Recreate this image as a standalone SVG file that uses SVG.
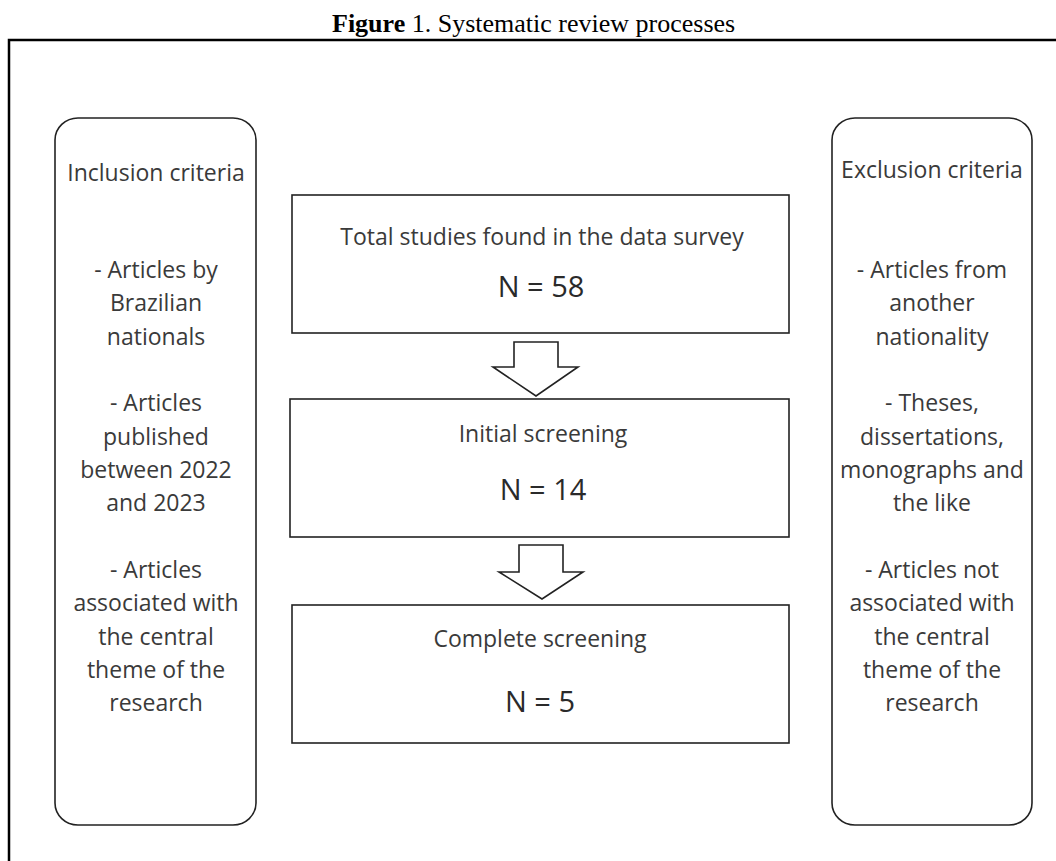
<svg xmlns="http://www.w3.org/2000/svg" width="1056" height="861" viewBox="0 0 1056 861">
<style>
.title{font-family:"Liberation Serif","Times New Roman",serif;font-size:26px;fill:#000}
.t{font-family:"Open Sans","Noto Sans",sans-serif;font-size:23px;fill:#3a3a3a;text-anchor:middle}
.n{font-family:"Open Sans","Noto Sans",sans-serif;font-size:29px;fill:#2a2a2a;text-anchor:middle}
.box{fill:#fff;stroke:#222;stroke-width:1.6}
.arrow{fill:#fff;stroke:#222;stroke-width:1.6;stroke-linejoin:miter}
.frame{fill:none;stroke:#000;stroke-width:2.5}
</style>
<rect width="1056" height="861" fill="#fff"/>
<text class="title" x="332" y="32"><tspan font-weight="bold">Figure</tspan> 1. Systematic review processes</text>
<path class="frame" d="M9,861 V40 H1056"/>

<g id="inclusion">
<rect class="box" x="55" y="118" width="201" height="707" rx="23" ry="22"/>
<text class="t" x="156" y="181">Inclusion criteria</text>
<text class="t" x="156" y="278">- Articles by</text>
<text class="t" x="156" y="311">Brazilian</text>
<text class="t" x="156" y="345">nationals</text>
<text class="t" x="156" y="411">- Articles</text>
<text class="t" x="156" y="445">published</text>
<text class="t" x="156" y="478">between 2022</text>
<text class="t" x="156" y="511">and 2023</text>
<text class="t" x="156" y="578">- Articles</text>
<text class="t" x="156" y="611">associated with</text>
<text class="t" x="156" y="645">the central</text>
<text class="t" x="156" y="678">theme of the</text>
<text class="t" x="156" y="711">research</text>
</g>

<g id="exclusion">
<rect class="box" x="832" y="118" width="200" height="707" rx="23" ry="22"/>
<text class="t" x="932" y="178">Exclusion criteria</text>
<text class="t" x="932" y="278">- Articles from</text>
<text class="t" x="932" y="311">another</text>
<text class="t" x="932" y="345">nationality</text>
<text class="t" x="932" y="411">- Theses,</text>
<text class="t" x="932" y="445">dissertations,</text>
<text class="t" x="932" y="478">monographs and</text>
<text class="t" x="932" y="511">the like</text>
<text class="t" x="932" y="578">- Articles not</text>
<text class="t" x="932" y="611">associated with</text>
<text class="t" x="932" y="645">the central</text>
<text class="t" x="932" y="678">theme of the</text>
<text class="t" x="932" y="711">research</text>
</g>

<g id="total">
<rect class="box" x="292" y="195" width="497" height="138"/>
<text class="t" x="542" y="245">Total studies found in the data survey</text>
<text class="n" x="541" y="297">N = 58</text>
</g>

<g id="initial">
<rect class="box" x="290" y="399" width="499" height="138"/>
<text class="t" x="543" y="442">Initial screening</text>
<text class="n" x="543" y="500">N = 14</text>
</g>

<g id="complete">
<rect class="box" x="292" y="605" width="497" height="138"/>
<text class="t" x="540" y="647">Complete screening</text>
<text class="n" x="540" y="712">N = 5</text>
</g>

<g id="connectors">
<polygon class="arrow" points="514,342 558,342 558,367 578,367 536,396 493,367 514,367"/>
<polygon class="arrow" points="519,545 563,545 563,572 583,572 542,599 499,572 519,572"/>
</g>
</svg>
